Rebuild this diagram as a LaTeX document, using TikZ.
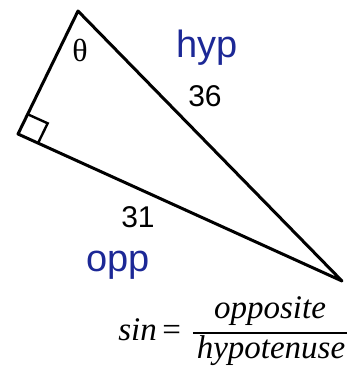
\documentclass[tikz,border=0pt]{standalone}
\usepackage{fontspec}
\setsansfont{Liberation Sans}
\newfontfamily\serifit{Liberation Serif}
\usetikzlibrary{calc}
\definecolor{penblue}{RGB}{28,40,150}
\tikzset{
  side/.style    = {line width=1.5pt, line join=round},
  rmark/.style   = {line width=1.2pt},
  num/.style     = {font=\sffamily\fontsize{15}{18}\selectfont},
  hand/.style    = {text=penblue, font=\sffamily\fontsize{19}{21}\selectfont},
  frm/.style     = {font=\serifit\itshape\fontsize{16.5}{20}\selectfont,
                    inner sep=0pt, anchor=base},
  fracbar/.style = {line width=0.9pt},
}

\begin{document}
\begin{tikzpicture}[x=0.5pt,y=-0.5pt]
  \useasboundingbox (0,0) rectangle (361,366);
  \coordinate (top) at (78,11);
  \coordinate (rt) at (18,134);
  \coordinate (tip) at (342,281);
  \draw[side] (top) -- (rt) -- (tip) -- cycle;
  % right angle
  \coordinate (ra1) at ($(rt)!11pt!(top)$);
  \coordinate (ra2) at ($(rt)!11pt!(tip)$);
  \draw[rmark] (ra1) -- ($(ra1)+(ra2)-(rt)$) -- (ra2);
  \node[font=\serifit\fontsize{16}{18}\selectfont] (theta) at (80,50) {θ};
  \node[hand] (hyp) at (207,48) {hyp};
  \node[num] (n36) at (205,96) {36};
  \node[num] (n31) at (138,217) {31};
  \node[hand] (opp) at (118,265) {opp};
  % sin = opposite / hypotenuse
  \node[frm, anchor=base west] (sinlbl) at (118,340) {sin\,{\upshape =}};
  \node[frm] (over) at (270,318) {opposite};
  \node[frm] (under) at (271,358) {hypotenuse};
  \coordinate (barl) at (193,333);
  \coordinate (barr) at (347,333);
  \draw[fracbar] (barl) -- (barr);
\end{tikzpicture}
\end{document}
